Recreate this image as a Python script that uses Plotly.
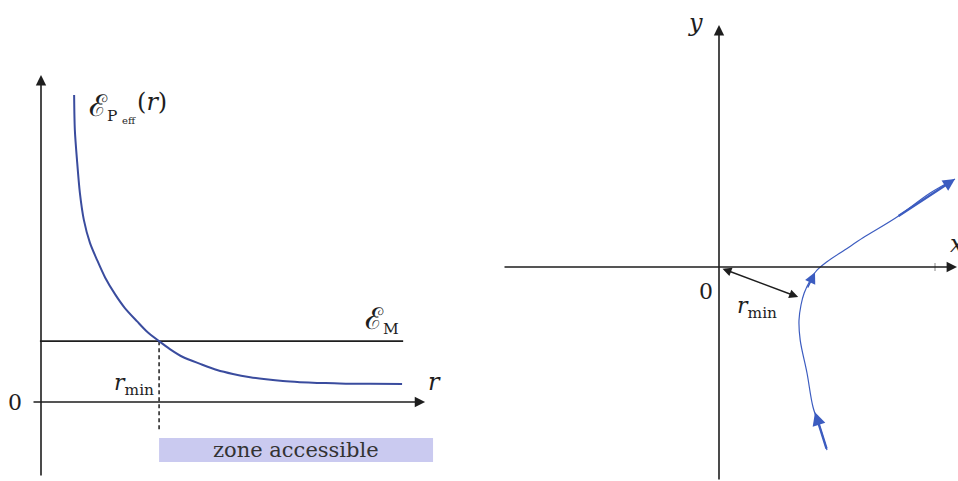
import plotly.graph_objects as go

# ---------------- data (left panel: effective potential energy) ----------------
r_curve = [0.92, 0.94, 1.00, 1.08, 1.19, 1.36, 1.56, 1.78, 2.06, 2.33, 2.67, 2.94, 3.28, 3.58, 3.94,
           4.42, 4.89, 5.33, 5.81, 6.25, 6.72, 7.19, 7.67, 8.14, 8.58, 9.14, 10.03]
E_curve = [8.53, 7.56, 6.72, 5.81, 5.06, 4.42, 3.94, 3.46, 2.99, 2.61, 2.24, 1.96, 1.69, 1.47, 1.25,
           1.06, 0.89, 0.78, 0.69, 0.63, 0.58, 0.55, 0.53, 0.52, 0.51, 0.51, 0.50]
E_M = 1.69
r_min = 3.28
r_axis = [-0.25, 10.67]
E_axis = [-2.08, 9.08]
EM_line_r = [-0.03, 10.06]
zone_r = [3.28, 10.89]
zone_E = [-1.67, -1.00]
dash_E_bottom = -0.83

# ---------------- data (right panel: hyperbolic trajectory) ----------------
traj_x = [2.70, 2.53, 2.35, 2.20, 2.03, 2.00, 2.05, 2.13, 2.28, 2.45, 2.70, 3.15, 3.60, 4.45, 5.28, 5.90]
traj_y = [-4.58, -4.03, -3.50, -2.65, -1.83, -1.33, -0.95, -0.65, -0.33, -0.08, 0.13, 0.43, 0.73, 1.25, 1.85, 2.20]
x_axis = [-5.4, 5.95]
y_axis = [-5.35, 6.05]
closest = [2.03, -0.75]
x_tick = 5.4

BLUE = "#3a4c9e"
BLUE2 = "#3c5cc0"
BLACK = "#1e1e1e"
FONT = "DejaVu Serif"
SCRIPT_E = "<span style='font-size:30px'>ℰ</span>"

fig = go.Figure()

fig.add_trace(go.Scatter(x=EM_line_r, y=[E_M, E_M], mode="lines",
                         line=dict(color=BLACK, width=1.6), xaxis="x", yaxis="y", hoverinfo="skip"))
fig.add_trace(go.Scatter(x=[r_min, r_min], y=[E_M, dash_E_bottom], mode="lines",
                         line=dict(color=BLACK, width=1.5, dash="4px,3px"), xaxis="x", yaxis="y", hoverinfo="skip"))
fig.add_trace(go.Scatter(x=r_curve, y=E_curve, mode="lines",
                         line=dict(color=BLUE, width=2, shape="spline", smoothing=0.8),
                         xaxis="x", yaxis="y", hoverinfo="skip"))
fig.add_trace(go.Scatter(x=traj_x, y=traj_y, mode="lines", line=dict(color=BLUE2, width=1.2, shape="spline"),
                         xaxis="x2", yaxis="y2", hoverinfo="skip"))
fig.add_trace(go.Scatter(x=[x_tick, x_tick], y=[-0.1, 0.1], mode="lines", line=dict(color="#888", width=1),
                         xaxis="x2", yaxis="y2", hoverinfo="skip"))

shapes = [
    dict(type="rect", xref="x", yref="y", x0=zone_r[0], x1=zone_r[1], y0=zone_E[0], y1=zone_E[1],
         fillcolor="#cacaf0", line=dict(width=0), layer="below"),
]

ann = []
def arrow(x0, y0, x1, y1, xr, yr, color=BLACK, width=1.6, size=1.3, head=2, side="end"):
    ann.append(dict(x=x1, y=y1, ax=x0, ay=y0, xref=xr, yref=yr, axref=xr, ayref=yr, text="",
                    showarrow=True, arrowhead=head, arrowsize=size, arrowwidth=width,
                    arrowcolor=color, arrowside=side, startarrowhead=head, startarrowsize=size,
                    standoff=0, startstandoff=0))

def label(x, y, text, xr, yr, size=22, xanchor="center", yanchor="middle", color=BLACK):
    ann.append(dict(x=x, y=y, xref=xr, yref=yr, text=text, showarrow=False,
                    font=dict(family=FONT, size=size, color=color), xanchor=xanchor, yanchor=yanchor))

arrow(0, E_axis[0], 0, E_axis[1], "x", "y")
arrow(r_axis[0], 0, r_axis[1], 0, "x", "y")
arrow(x_axis[0], 0, x_axis[1], 0, "x2", "y2")
arrow(0, y_axis[0], 0, y_axis[1], "x2", "y2")
arrow(0.05, -0.03, closest[0] - 0.05, closest[1], "x2", "y2", width=1.5, size=1.2, side="end+start")
arrow(traj_x[0], traj_y[0], 2.40, -3.63, "x2", "y2", color=BLUE2, width=2.4, size=1.1)
arrow(2.20, -0.55, 2.40, -0.13, "x2", "y2", color=BLUE2, width=1.6, size=1.4)
arrow(4.45, 1.25, traj_x[-1], traj_y[-1], "x2", "y2", color=BLUE2, width=2.2, size=1.1)

label(-0.72, 0, "0", "x", "y", size=22)
label(10.7, 0.55, "<i>r</i>", "x", "y", size=24, xanchor="left")
label(3.2, 0.48, "<i>r</i><sub>min</sub>", "x", "y", size=22, xanchor="right")
label(8.95, 2.3, SCRIPT_E + "<sub>M</sub>", "x", "y", size=22, xanchor="left")
label(1.27, 8.2, SCRIPT_E + "<sub>P</sub>", "x", "y", size=22, xanchor="left")
label(2.2, 7.82, "eff", "x", "y", size=10, xanchor="left")
label(2.62, 8.33, "(<i>r</i>)", "x", "y", size=24, xanchor="left")
label((zone_r[0] + zone_r[1]) / 2, sum(zone_E) / 2, "zone accessible", "x", "y", size=21, color="#333")

label(-0.6, 6.1, "<i>y</i>", "x2", "y2", size=24)
label(5.72, 0.575, "<i>x</i>", "x2", "y2", size=24, xanchor="left")
label(-0.33, -0.6, "0", "x2", "y2", size=22)
label(0.95, -1.02, "<i>r</i><sub>min</sub>", "x2", "y2", size=22)

ax_common = dict(visible=False, showgrid=False, zeroline=False, fixedrange=True)
fig.update_layout(
    width=958, height=481, margin=dict(l=0, r=0, t=0, b=0, pad=0),
    paper_bgcolor="white", plot_bgcolor="white", showlegend=False,
    xaxis=dict(domain=[0, 450 / 958], range=[-41 / 36, (450 - 41) / 36], **ax_common),
    yaxis=dict(domain=[0, 1], range=[-79 / 36, 402 / 36], **ax_common),
    xaxis2=dict(domain=[479 / 958, 1], range=[(479 - 719) / 40, (958 - 719) / 40], anchor="y2", **ax_common),
    yaxis2=dict(domain=[0, 1], range=[-214 / 40, 267 / 40], anchor="x2", **ax_common),
    shapes=shapes, annotations=ann,
)

fig.write_html("out.html", config={"displayModeBar": False},
               post_script="document.body.style.margin='0';document.body.style.overflow='hidden';")
